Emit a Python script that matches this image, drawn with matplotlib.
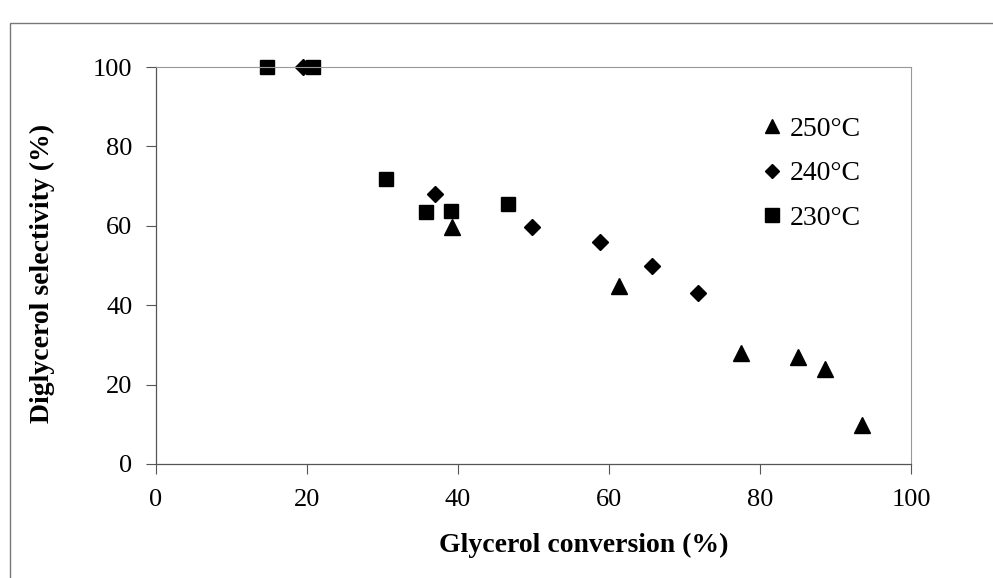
import numpy as np
import matplotlib.pyplot as plt
from matplotlib.patches import Rectangle

plt.rcParams['font.family'] = ['Liberation Serif', 'DejaVu Serif']

# glycerol conversion (%) vs diglycerol selectivity (%)
conv_250 = [39.2, 61.3, 77.5, 85.0, 88.6, 93.5]
sel_250 = [59.8, 44.8, 28.0, 27.0, 24.0, 9.8]

conv_240 = [19.5, 37.0, 49.8, 58.8, 65.7, 71.8]
sel_240 = [100.0, 68.0, 59.8, 56.0, 49.8, 43.0]

conv_230 = [14.7, 20.8, 30.5, 35.8, 39.1, 46.6]
sel_230 = [100.0, 100.0, 71.7, 63.4, 63.8, 65.4]

fig = plt.figure(figsize=(9.93, 5.78), dpi=100)

# chart frame
fig.patches.append(Rectangle((10 / 993, -0.1), 1.2, 1 - 23 / 578 + 0.1,
                             transform=fig.transFigure, fill=False,
                             edgecolor='#777777', linewidth=1.0))

ax = fig.add_axes([156 / 993, 1 - 464 / 578, 755 / 993, 397 / 578])

ax.plot(conv_250, sel_250, linestyle='none', marker='^', markersize=11,
        color='black', label='250°C', clip_on=False)
ax.plot(conv_240, sel_240, linestyle='none', marker='D', markersize=8,
        color='black', label='240°C', clip_on=False)
ax.plot(conv_230, sel_230, linestyle='none', marker='s', markersize=10,
        color='black', label='230°C', clip_on=False)

ax.set_xlim(0, 100)
ax.set_ylim(0, 100)
ax.set_xticks(np.arange(0, 101, 20))
ax.set_yticks(np.arange(0, 101, 20))
ax.tick_params(direction='out', length=7, width=0.8, labelsize=19,
               color='#555555')
ax.tick_params(axis='x', pad=11)
ax.tick_params(axis='y', pad=10)

for side in ['top', 'right']:
    ax.spines[side].set_color('#999999')
    ax.spines[side].set_linewidth(0.8)
for side in ['left', 'bottom']:
    ax.spines[side].set_color('#555555')
    ax.spines[side].set_linewidth(0.9)

ax.set_xlabel('Glycerol conversion (%)', fontsize=20, fontweight='bold')
ax.set_ylabel('Diglycerol selectivity (%)', fontsize=20, fontweight='bold')
ax.xaxis.set_label_coords(0.566, -0.204)
ax.xaxis.label.set_va('center')
ax.yaxis.set_label_coords(-0.150, 0.481)
ax.yaxis.label.set_va('center')

ax.legend(loc='upper left', bbox_to_anchor=(0.783, 0.903), frameon=False,
          fontsize=20, handletextpad=0.15, labelspacing=0.68,
          handlelength=1.0, markerscale=0.95, borderaxespad=0)

fig.savefig('out.png', dpi=100)
